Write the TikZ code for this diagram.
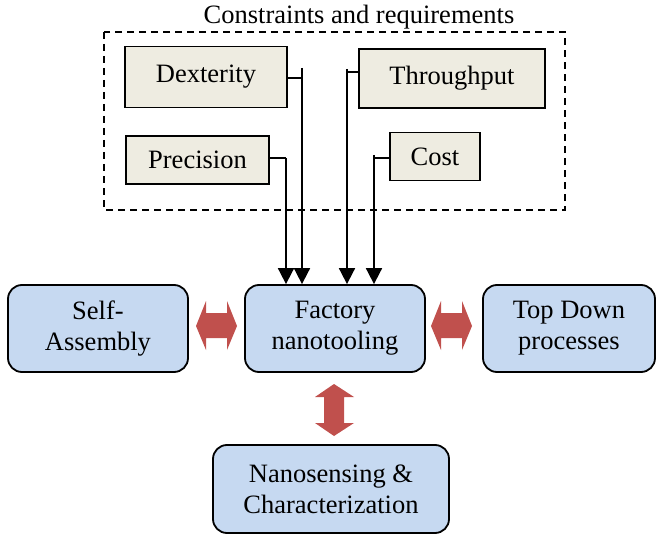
\documentclass[tikz,border=0pt]{standalone}
\usepackage{fontspec}
\setmainfont{Liberation Serif}
\usetikzlibrary{arrows.meta}
\definecolor{beige}{HTML}{EEECE1}
\definecolor{lblue}{HTML}{C6D9F1}
\definecolor{dred}{HTML}{C0504D}
\begin{document}
\begin{tikzpicture}[x=1pt,y=-1pt,
  txt/.style={font=\fontsize{26.5}{31}\selectfont},
  reqbox/.style={draw=black,line width=1.8pt,fill=beige,txt},
  mainbox/.style={draw=black,line width=1.8pt,fill=lblue,rounded corners=14pt,align=center,txt},
  conn/.style={line width=1.8pt,-{Triangle[length=16pt,width=16pt]}},
  dbl/.style={fill=dred,draw=none}]
\useasboundingbox (0,0) rectangle (657,535);
\node[txt,anchor=center] (title) at (359,17) {Constraints and requirements};
\draw[dashed,line width=1.6pt,dash pattern=on 7pt off 5pt] (104,32) rectangle (565,210);
\node[reqbox,minimum width=162pt,minimum height=61pt] (dex) at (206,77) {Dexterity};
\node[reqbox,minimum width=186pt,minimum height=59pt] (thr) at (452,78.5) {Throughput};
\node[reqbox,minimum width=143pt,minimum height=48pt] (pre) at (197.5,160) {Precision};
\node[reqbox,minimum width=90pt,minimum height=48pt] (cost) at (435,156.5) {Cost};
\node[mainbox,minimum width=180pt,minimum height=87pt] (self) at (98,328.5) {Self-\\Assembly};
\node[mainbox,minimum width=180pt,minimum height=87pt] (fac) at (335,328.5) {Factory\\nanotooling};
\node[mainbox,minimum width=172pt,minimum height=87pt] (top) at (569,328.5) {Top Down\\processes};
\node[mainbox,minimum width=236pt,minimum height=88pt] (nano) at (331,489) {Nanosensing \&\\Characterization};
% connectors
\coordinate (dexT) at (302,68);
\coordinate (thrT) at (347,69);
\coordinate (preT) at (286,158);
\coordinate (costT) at (374,155);
\draw[line width=1.8pt] (dex.east |- 0,78) -- (302,78);
\draw[conn] (dexT) -- (dexT |- fac.north);
\draw[line width=1.8pt] (thr.west |- 0,72) -- (347,72);
\draw[conn] (thrT) -- (thrT |- fac.north);
\draw[line width=1.8pt] (pre.east |- 0,158) -- (preT);
\draw[conn] (preT) -- (preT |- fac.north);
\draw[line width=1.8pt] (cost.west |- 0,158) -- (374,158);
\draw[conn] (costT) -- (costT |- fac.north);
% red double arrows
\fill[dbl] (196,326) -- (206,301) -- (206,313) -- (227,313) -- (227,301) -- (237,326) -- (227,350) -- (227,338) -- (206,338) -- (206,350) -- cycle;
\fill[dbl] (431,326) -- (441,301) -- (441,313) -- (462,313) -- (462,301) -- (472,326) -- (462,350) -- (462,338) -- (441,338) -- (441,350) -- cycle;
\fill[dbl] (334,384) -- (354,397) -- (344,397) -- (344,423) -- (354,423) -- (334,436) -- (315,423) -- (324,423) -- (324,397) -- (315,397) -- cycle;
\end{tikzpicture}
\end{document}
